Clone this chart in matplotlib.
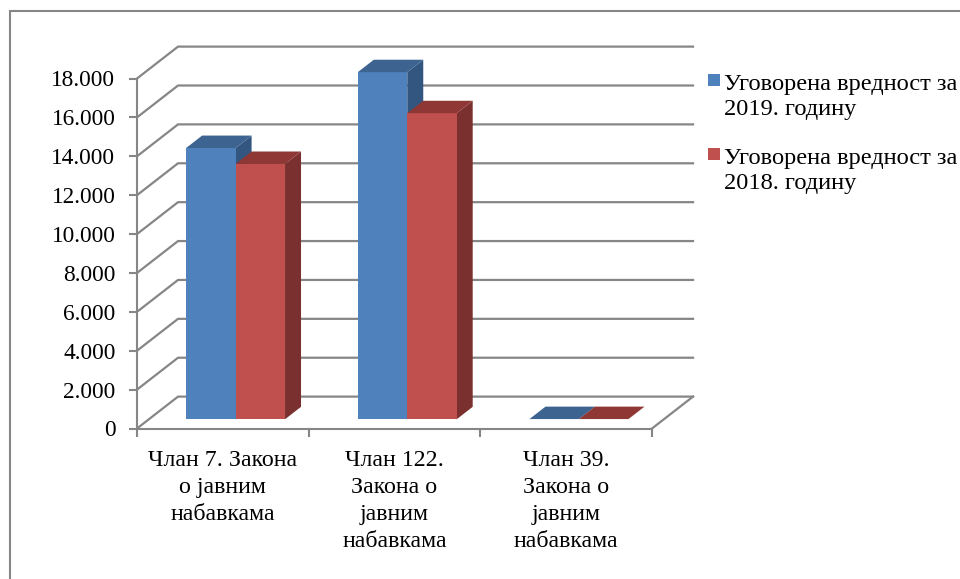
import matplotlib
matplotlib.use('Agg')
import matplotlib.pyplot as plt
from matplotlib.patches import Polygon, Rectangle

plt.rcParams['font.family'] = ['Liberation Serif', 'DejaVu Serif']

categories = ['Члан 7. Закона\nо јавним\nнабавкама',
              'Члан 122.\nЗакона о\nјавним\nнабавкама',
              'Члан 39.\nЗакона о\nјавним\nнабавкама']
series_names = ['Уговорена вредност за\n2019. годину',
                'Уговорена вредност за\n2018. годину']
values_2019 = [13950, 17850, 10]
values_2018 = [13130, 15740, 10]
yticks = [0, 2000, 4000, 6000, 8000, 10000, 12000, 14000, 16000, 18000]

front_colors = ['#4F81BD', '#C0504D']
top_colors = ['#3D6390', '#8E3735']
side_colors = ['#335680', '#7A302E']
gridcolor = '#868686'

W, H = 960, 579
# 3d look: depth 1 moves this far in data units
depth_x = 0.239
depth_y = 1640
bar_width = 0.288
d_front = 0.29
d_back = 0.68


def project(x, v, d):
    return (x + depth_x*d, v + depth_y*d)


def draw_bar(ax, x, v, i):
    x2 = x + bar_width
    front = [project(x, 0, d_front), project(x2, 0, d_front), project(x2, v, d_front), project(x, v, d_front)]
    side = [project(x2, 0, d_front), project(x2, 0, d_back), project(x2, v, d_back), project(x2, v, d_front)]
    top = [project(x, v, d_front), project(x2, v, d_front), project(x2, v, d_back), project(x, v, d_back)]
    ax.add_patch(Polygon(side, closed=True, fc=side_colors[i], ec='none', zorder=3, clip_on=False))
    ax.add_patch(Polygon(front, closed=True, fc=front_colors[i], ec='none', zorder=3, clip_on=False))
    ax.add_patch(Polygon(top, closed=True, fc=top_colors[i], ec='none', zorder=3, clip_on=False))


fig = plt.figure(figsize=(W/100, H/100), dpi=100)
# frame runs off the right and bottom of the picture
fig.add_artist(Rectangle((9.5/W, -20/H), 970/W, (H - 10.5 + 20)/H, transform=fig.transFigure, fc='white', ec=gridcolor, lw=1.5, zorder=-1))

ax = fig.add_axes([137/W, 1-428.5/H, 515/W, 350/H])
ax.set_xlim(0, 3)
ax.set_ylim(0, 18000)
ax.patch.set_alpha(0)
for s in ['top', 'right']:
    ax.spines[s].set_visible(False)
for s in ['left', 'bottom']:
    ax.spines[s].set_color(gridcolor)
    ax.spines[s].set_linewidth(1.5)

# walls
for v in yticks:
    xs, ys = zip(project(0, v, 0), project(0, v, 1), project(3, v, 1))
    ax.plot(xs, ys, color=gridcolor, lw=1.6, clip_on=False, zorder=1, solid_joinstyle='miter')
xs, ys = zip(project(3, 0, 0), project(3, 0, 1))
ax.plot(xs, ys, color=gridcolor, lw=1.6, clip_on=False, zorder=1)

offset = (1 - 2*bar_width)/2 + 0.005
for k in range(len(categories)):
    draw_bar(ax, k + offset, values_2019[k], 0)
    draw_bar(ax, k + offset + bar_width, values_2018[k], 1)

ax.set_yticks(yticks)
ax.set_yticklabels([f'{v:,}'.replace(',', '.') for v in yticks], fontsize=16.8, color='black')
ax.tick_params(axis='y', length=6, width=1.5, color=gridcolor, pad=9.5)
ax.set_xticks([0, 1, 2, 3])
ax.set_xticklabels([])
ax.tick_params(axis='x', which='major', length=6, width=1.5, color=gridcolor)
ax.set_xticks([0.5, 1.5, 2.5], minor=True)
ax.set_xticklabels(categories, minor=True, fontsize=17.2, color='black', linespacing=1.37)
ax.tick_params(axis='x', which='minor', length=0, pad=15.5)

# legend by hand, the swatch sits on the first text line
for i, name in enumerate(series_names):
    y = 74 + 74*i
    fig.add_artist(Rectangle((708/W, 1-(y+12)/H), 12/W, 12/H, transform=fig.transFigure, fc=front_colors[i], ec='none'))
    fig.text(724/W, 1-(y+0)/H, name, fontsize=17.6, va='top', ha='left', color='black', linespacing=1.25)

fig.savefig('out.png', dpi=100)
plt.close()
